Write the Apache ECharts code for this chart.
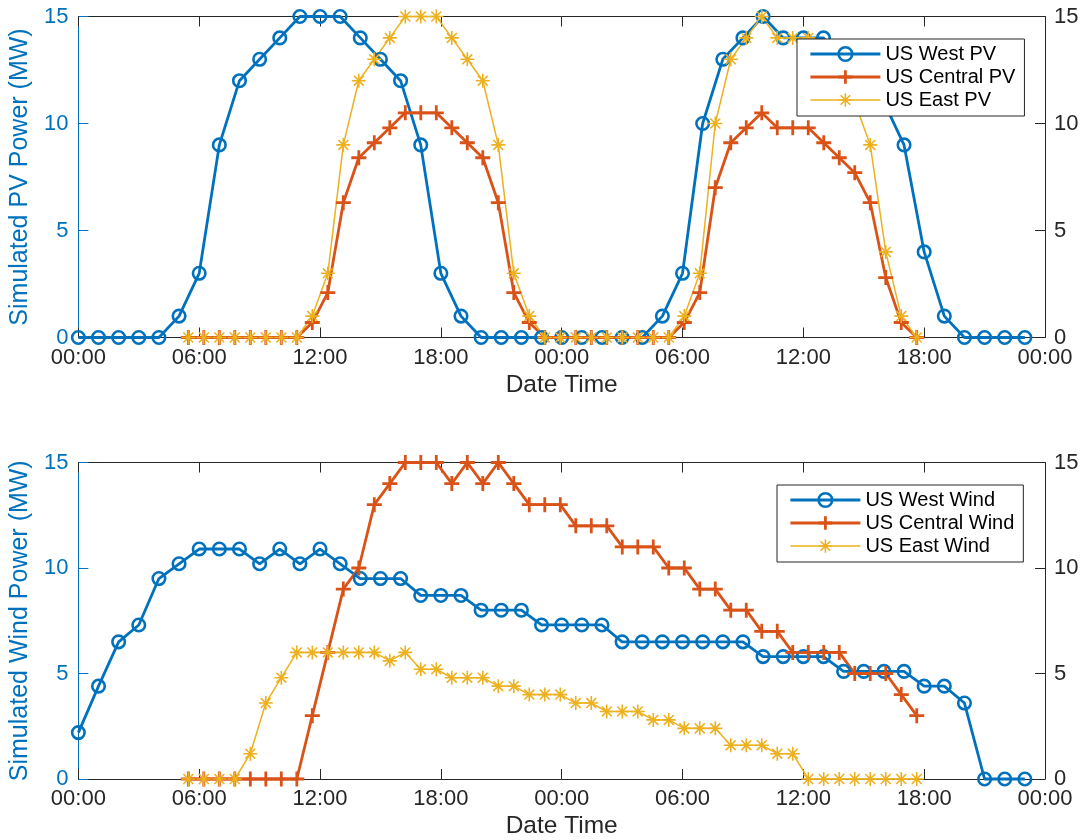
<!DOCTYPE html>
<html><head><meta charset="utf-8">
<script src="https://cdn.jsdelivr.net/npm/echarts@6/dist/echarts.min.js"></script>
<style>html,body{margin:0;padding:0;background:#fff}#c{width:1082px;height:840px}</style>
</head><body><div id="c"></div>
<script>
// ---- time grids (hours from the first 00:00) ----
const westHours = Array.from({length: 48}, (_, i) => i);            // hourly samples
const EAST_START = 5.46, EAST_STEP = 0.7696;                         // regular sampling of the Central/East series
const eastHours = Array.from({length: 48}, (_, i) => EAST_START + i * EAST_STEP);
const timeTickLabels = ['00:00','06:00','12:00','18:00','00:00','06:00','12:00','18:00','00:00'];

// ---- PV (MW) ----
const westPV = [0,0,0,0,0,1,3,9,12,13,14,15,15,15,14,13,12,9,3,1,0,0,0,0,
                0,0,0,0,0,1,3,10,13,14,15,14,14,14,13,12,11,9,4,1,0,0,0,0];
const centralPV = [0,0,0,0,0,0,0,0,0.7,2.1,6.3,8.4,9.1,9.8,10.5,10.5,10.5,9.8,9.1,8.4,6.3,2.1,0.7,
                   0,0,0,0,0,0,0,0,0,0.7,2.1,7.0,9.1,9.8,10.5,9.8,9.8,9.8,9.1,8.4,7.7,6.3,2.8,0.7,0];
const eastPV = [0,0,0,0,0,0,0,0,1,3,9,12,13,14,15,15,15,14,13,12,9,3,1,
                0,0,0,0,0,0,0,0,0,1,3,10,13,14,15,14,14,14,13,12,11,9,4,1,0];

// ---- Wind (MW) ----
const westWind = [2.2,4.4,6.5,7.3,9.5,10.2,10.9,10.9,10.9,10.2,10.9,10.2,10.9,10.2,9.5,9.5,9.5,8.7,8.7,8.7,8.0,8.0,8.0,
                  7.3,7.3,7.3,7.3,6.5,6.5,6.5,6.5,6.5,6.5,6.5,5.8,5.8,5.8,5.8,5.1,5.1,5.1,5.1,4.4,4.4,3.6,0,0,0];
const centralWind = [0,0,0,0,0,0,0,0,3,6,9,10,13,14,15,15,15,14,15,14,15,14,13,13,13,
                     12,12,12,11,11,11,10,10,9,9,8,8,7,7,6,6,6,6,5,5,5,4,3];
const eastWind = [0,0,0,0,1.2,3.6,4.8,6,6,6,6,6,6,5.6,6,5.2,5.2,4.8,4.8,4.8,4.4,4.4,4.0,4.0,4.0,
                  3.6,3.6,3.2,3.2,3.2,2.8,2.8,2.4,2.4,2.4,1.6,1.6,1.6,1.2,1.2,0,0,0,0,0,0,0,0];

// ---- styles ----
const BLUE = '#0072BD', ORANGE = '#D95319', YELLOW = '#EDB120', AX = '#262626';
const FONT = '"Liberation Sans", Arial, Helvetica, sans-serif';
const SYM_O = 'path://M1,0A1,1,0,1,1,-1,0A1,1,0,1,1,1,0Z';
const SYM_PLUS = 'path://M0,-1L0,1M-1,0L1,0';
const SYM_STAR = 'path://M0,-1L0,1M-1,0L1,0M-0.7071,-0.7071L0.7071,0.7071M-0.7071,0.7071L0.7071,-0.7071';

function mk(name, xs, ys, color, sym, lw, size, symLw, gi) {
  return {
    type: 'line', name: name, xAxisIndex: gi * 2, yAxisIndex: gi * 2,
    data: xs.map((x, i) => [x, ys[i]]),
    symbol: sym, symbolSize: size, showAllSymbol: true, clip: false,
    lineStyle: {color: color, width: lw},
    itemStyle: {color: 'rgba(0,0,0,0)', borderColor: color, borderWidth: symLw},
    emphasis: {disabled: true}, silent: true, animation: false
  };
}
function xAxes(gi) {
  const fmt = v => timeTickLabels[Math.round(v / 6)];
  return [
    {type: 'value', gridIndex: gi, position: 'bottom', min: 0, max: 48, interval: 6,
     axisLine: {onZero: false, lineStyle: {color: AX, width: 1}},
     axisTick: {inside: true, length: 10, lineStyle: {color: AX}},
     axisLabel: {formatter: fmt, color: AX, fontSize: 22, margin: 9, fontFamily: FONT},
     splitLine: {show: false},
     name: 'Date Time', nameLocation: 'middle', nameGap: 35,
     nameTextStyle: {fontSize: 24.5, color: AX, fontFamily: FONT}},
    {type: 'value', gridIndex: gi, position: 'top', min: 0, max: 48, interval: 6,
     axisLine: {onZero: false, lineStyle: {color: AX, width: 1}},
     axisTick: {inside: true, length: 10, lineStyle: {color: AX}},
     axisLabel: {show: false}, splitLine: {show: false}}
  ];
}
function yAxes(gi, name) {
  return [
    {type: 'value', gridIndex: gi, position: 'left', min: 0, max: 15, interval: 5,
     axisLine: {show: true, onZero: false, lineStyle: {color: BLUE, width: 1}},
     axisTick: {show: true, inside: true, length: 10, lineStyle: {color: BLUE}},
     axisLabel: {color: BLUE, fontSize: 22, margin: 10, fontFamily: FONT},
     splitLine: {show: false},
     name: name, nameLocation: 'middle', nameGap: 45, nameRotate: 90,
     nameTextStyle: {fontSize: 25, color: BLUE, fontFamily: FONT}},
    {type: 'value', gridIndex: gi, position: 'right', min: 0, max: 15, interval: 5,
     axisLine: {show: true, onZero: false, lineStyle: {color: AX, width: 1}},
     axisTick: {show: true, inside: true, length: 10, lineStyle: {color: AX}},
     axisLabel: {color: AX, fontSize: 22, margin: 9, fontFamily: FONT},
     splitLine: {show: false}}
  ];
}
function legendItem(name, color, lw, symLw) {
  return {name: name, lineStyle: {width: lw, color: color},
          itemStyle: {color: 'rgba(0,0,0,0)', borderColor: color, borderWidth: symLw}};
}
function legend(names, left, top) {
  return {
    data: [legendItem(names[0], BLUE, 2.8, 2.6), legendItem(names[1], ORANGE, 2.8, 2.8), legendItem(names[2], YELLOW, 1.5, 1.6)],
    orient: 'vertical', left: left, top: top, itemWidth: 70, itemHeight: 17, itemGap: 3,
    padding: [5, 9, 6, 12], borderColor: AX, borderWidth: 1, borderRadius: 0, backgroundColor: '#fff',
    textStyle: {fontSize: 20, color: '#000', lineHeight: 20, fontFamily: FONT}, selectedMode: false
  };
}

const chart = echarts.init(document.getElementById('c'), null, {renderer: 'canvas'});
chart.setOption({
  animation: false,
  backgroundColor: '#fff',
  textStyle: {fontFamily: FONT},
  grid: [
    {left: 78, top: 16.5, width: 967, height: 321, containLabel: false},
    {left: 78, top: 462.5, width: 967, height: 319, containLabel: false}
  ],
  xAxis: xAxes(0).concat(xAxes(1)),
  yAxis: yAxes(0, 'Simulated PV Power (MW)').concat(yAxes(1, 'Simulated Wind Power (MW)')),
  legend: [
    legend(['US West PV', 'US Central PV', 'US East PV'], 797, 39),
    legend(['US West Wind', 'US Central Wind', 'US East Wind'], 777, 485)
  ],
  series: [
    mk('US West PV', westHours, westPV, BLUE, SYM_O, 2.8, 12.5, 2.6, 0),
    mk('US Central PV', eastHours, centralPV, ORANGE, SYM_PLUS, 2.8, 15, 2.8, 0),
    mk('US East PV', eastHours, eastPV, YELLOW, SYM_STAR, 1.5, 14, 1.6, 0),
    mk('US West Wind', westHours, westWind, BLUE, SYM_O, 2.8, 12.5, 2.6, 1),
    mk('US Central Wind', eastHours, centralWind, ORANGE, SYM_PLUS, 2.8, 15, 2.8, 1),
    mk('US East Wind', eastHours, eastWind, YELLOW, SYM_STAR, 1.5, 14, 1.6, 1)
  ]
});
</script>
</body></html>
